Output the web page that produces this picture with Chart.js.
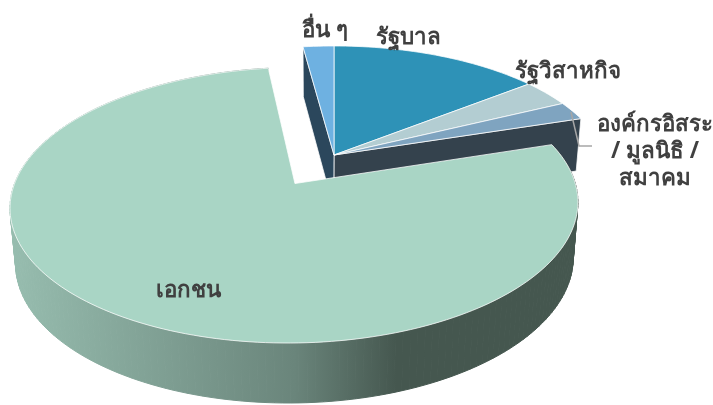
<!DOCTYPE html>
<html>
<head>
<meta charset="utf-8">
<style>
  html, body { margin: 0; padding: 0; background: #fff; }
  canvas { display: block; }
</style>
<script src="https://cdn.jsdelivr.net/npm/chart.js@4"></script>
</head>
<body>
<canvas id="pie" width="713" height="405"></canvas>
<script>
const categories = ['รัฐบาล', 'รัฐวิสาหกิจ', 'องค์กรอิสระ / มูลนิธิ / สมาคม', 'เอกชน', 'อื่น ๆ'];
const shares = [14.4, 3.4, 2.3, 77.8, 2.1];
const topColors = ['#2e92b7', '#b3cdd2', '#7fa4c0', '#a9d5c5', '#6eb1e1'];
const sideColors = ['#1d5c74', '#5a6f73', '#34424d', '#45574f', '#2b475c'];

// perspective of the pie's top face, tilted away from the viewer
const view = { cx: 334, cy: 155, sx: 271, sy: 125.6, k: 0.152 };
// how far the big slice is pulled out, in pie radii
const pullOut = 0.26;

function project(u, v) {
    const w = 1 - view.k * v;
    return [view.cx + view.sx * u / w, view.cy + view.sy * v / w];
}

// the bottom face sits a little lower and narrower than the top one
function drop(p) {
    return [320 + (p[0] - 320) * 0.982, p[1] + 50 + 0.0336 * (p[1] - 46)];
}

function arcShift(arc) {
    const mid = (arc.startAngle + arc.endAngle) / 2;
    const off = arc.options.offset > 0 ? pullOut : 0;
    return [Math.cos(mid) * off, Math.sin(mid) * off];
}

function rimPoints(arc) {
    const [du, dv] = arcShift(arc);
    const pts = [];
    const steps = Math.max(4, Math.ceil((arc.endAngle - arc.startAngle) * 40));
    for (let i = 0; i <= steps; i++) {
        const a = arc.startAngle + (arc.endAngle - arc.startAngle) * i / steps;
        pts.push(project(du + Math.cos(a), dv + Math.sin(a)));
    }
    return pts;
}

function tracePoly(ctx, pts) {
    ctx.beginPath();
    pts.forEach((p, i) => i ? ctx.lineTo(p[0], p[1]) : ctx.moveTo(p[0], p[1]));
    ctx.closePath();
}

function paint(ctx, pts, fill) {
    tracePoly(ctx, pts);
    ctx.fillStyle = fill;
    ctx.fill();
    ctx.strokeStyle = 'rgba(255,255,255,0.75)';
    ctx.lineWidth = 1;
    ctx.stroke();
}

// outer wall as one quad per rim step, so the silhouette stays straight at the widest points
function drawWall(ctx, rim, fill) {
    ctx.fillStyle = fill;
    ctx.strokeStyle = fill;
    ctx.lineWidth = 1;
    for (let i = 0; i < rim.length - 1; i++) {
        tracePoly(ctx, [rim[i], rim[i + 1], drop(rim[i + 1]), drop(rim[i])]);
        ctx.fill();
        ctx.stroke();
    }
}

function drawCutFace(ctx, arc, rimPoint, color) {
    const [du, dv] = arcShift(arc);
    const apex = project(du, dv);
    paint(ctx, [apex, rimPoint, drop(rimPoint), drop(apex)], color);
}

function drawTop(ctx, arc, color) {
    const [du, dv] = arcShift(arc);
    paint(ctx, [project(du, dv)].concat(rimPoints(arc)), color);
}

const pie3d = {
    id: 'pie3d',
    beforeDatasetDraw(chart, args) {
        const ctx = chart.ctx;
        const arcs = args.meta.data;
        const isOut = arc => arc.options.offset > 0;
        const still = arcs.filter(arc => !isOut(arc));

        ctx.save();
        ctx.lineJoin = 'round';
        // slices left in the middle: only the two walls facing the gap show
        arcs.forEach((arc, i) => {
            if (isOut(arc)) return;
            const rim = rimPoints(arc);
            const prev = arcs[(i + arcs.length - 1) % arcs.length];
            const next = arcs[(i + 1) % arcs.length];
            if (isOut(prev)) drawCutFace(ctx, arc, rim[0], sideColors[i]);
            if (isOut(next)) drawCutFace(ctx, arc, rim[rim.length - 1], sideColors[i]);
        });
        still.forEach(arc => drawTop(ctx, arc, topColors[arcs.indexOf(arc)]));

        // the pulled out slice sits in front of everything else
        arcs.forEach((arc, i) => {
            if (!isOut(arc)) return;
            const wall = ctx.createLinearGradient(11, 0, 578, 0);
            wall.addColorStop(0, '#97bdaf');
            wall.addColorStop(0.5, '#6a857b');
            wall.addColorStop(0.68, sideColors[i]);
            wall.addColorStop(1, sideColors[i]);
            drawWall(ctx, rimPoints(arc), wall);
            drawTop(ctx, arc, topColors[i]);
        });
        ctx.restore();
        return false;
    },
    afterDraw(chart) {
        const ctx = chart.ctx;
        ctx.save();
        // leader line of the foundation label
        ctx.strokeStyle = '#a6a6a6';
        ctx.lineWidth = 1.5;
        ctx.beginPath();
        ctx.moveTo(571, 112);
        ctx.lineTo(579, 146);
        ctx.lineTo(592, 146);
        ctx.stroke();

        ctx.fillStyle = '#404040';
        ctx.font = 'bold 22.3px "Noto Sans", Tahoma, sans-serif';
        ctx.textAlign = 'center';
        ctx.textBaseline = 'middle';
        ctx.fillText(categories[4], 325, 31);
        ctx.fillText(categories[0], 408, 38);
        ctx.fillText(categories[1], 568, 72);
        ctx.fillText('องค์กรอิสระ', 655, 125);
        ctx.fillText('/ มูลนิธิ /', 655, 152);
        ctx.fillText('สมาคม', 655, 179);
        ctx.fillText(categories[3], 188, 291);
        ctx.restore();
    }
};

new Chart(document.getElementById('pie'), {
    type: 'pie',
    data: {
        labels: categories,
        datasets: [{
            data: shares,
            backgroundColor: topColors,
            offset: [0, 0, 0, 20, 0]
        }]
    },
    options: {
        responsive: false,
        animation: false,
        layout: { padding: 0 },
        plugins: {
            legend: { display: false },
            tooltip: { enabled: false }
        }
    },
    plugins: [pie3d]
});
</script>
</body>
</html>
